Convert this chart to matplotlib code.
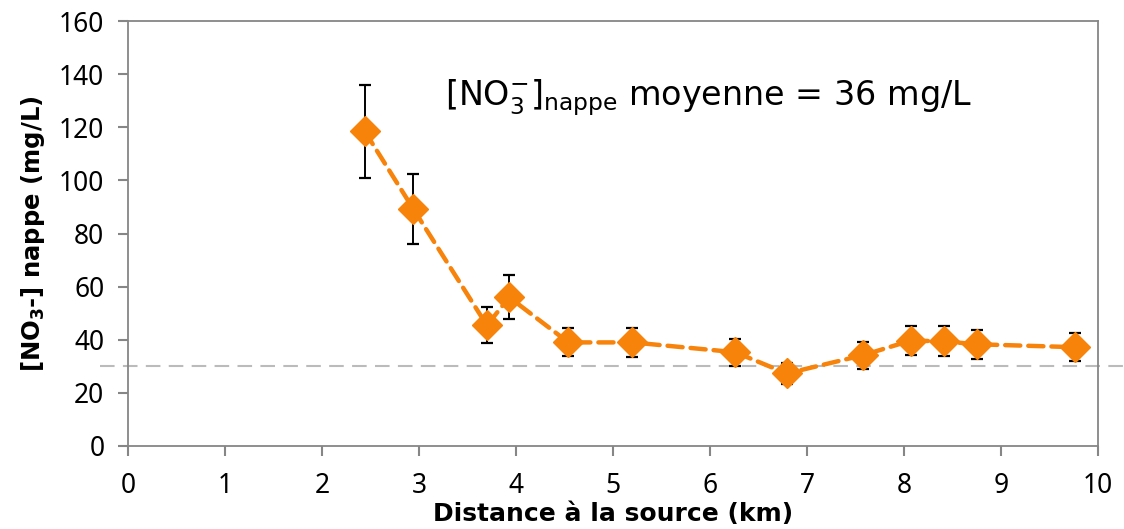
import numpy as np
import matplotlib
matplotlib.use("Agg")
import matplotlib.pyplot as plt

# data
distance_km = [2.44, 2.94, 3.70, 3.93, 4.54, 5.20, 6.26, 6.79, 7.58, 8.07, 8.41, 8.75, 9.76]
no3_mg_l = [118.5, 89.3, 45.4, 56.0, 39.0, 39.0, 35.3, 27.3, 34.2, 39.7, 39.4, 38.3, 37.2]
no3_err = [17.5, 13.2, 6.8, 8.3, 5.3, 5.5, 5.1, 3.8, 5.1, 5.6, 5.6, 5.4, 5.2]
reference_level = 30

orange = "#F7830A"
grey = "#868686"

plt.rcParams['font.family'] = ['DejaVu Sans']

fig = plt.figure(figsize=(11.24, 5.29), dpi=100)
ax = fig.add_axes([0.1139, 0.1569, 0.863, 0.8034])

ax.axhline(reference_level, xmin=-0.029, xmax=1.03, color="#BBBBBB", lw=1.5,
           dashes=(7, 4), clip_on=False, zorder=1)

ax.errorbar(distance_km, no3_mg_l, yerr=no3_err, fmt="none", ecolor="black",
            elinewidth=1.4, capsize=4.5, capthick=1.6, zorder=2)
ax.plot(distance_km, no3_mg_l, color=orange, lw=3.2, dashes=(3.4, 1.8),
        dash_capstyle="round", marker="D", ms=15, mfc=orange, mec=orange, zorder=3)

ax.set_xlim(0, 10)
ax.set_ylim(0, 160)
ax.set_xticks(np.arange(0, 11, 1))
ax.set_yticks(np.arange(0, 161, 20))
ax.tick_params(axis="x", which="major", direction="out", length=7, width=1.5,
               color=grey, labelcolor="black", labelsize=19,
               labelfontfamily="Noto Sans", pad=12)
ax.tick_params(axis="y", which="major", direction="out", length=7, width=1.5,
               color=grey, labelcolor="black", labelsize=19,
               labelfontfamily="Noto Sans", pad=10)
for s in ax.spines.values():
    s.set_color(grey)
    s.set_linewidth(1.3)

ax.set_xlabel("Distance à la source (km)", fontsize=18, fontweight="bold", labelpad=1)
ax.set_ylabel(r"[NO$_\mathbf{3}$-] nappe (mg/L)", fontsize=17.5, fontweight="bold", labelpad=9)

ax.text(3.27, 131, r"[NO$_3^{\mathregular{-}}$]$_{\mathregular{nappe}}$ moyenne = 36 mg/L",
        fontsize=24, va="center", ha="left")

fig.savefig("out.png", dpi=100)
